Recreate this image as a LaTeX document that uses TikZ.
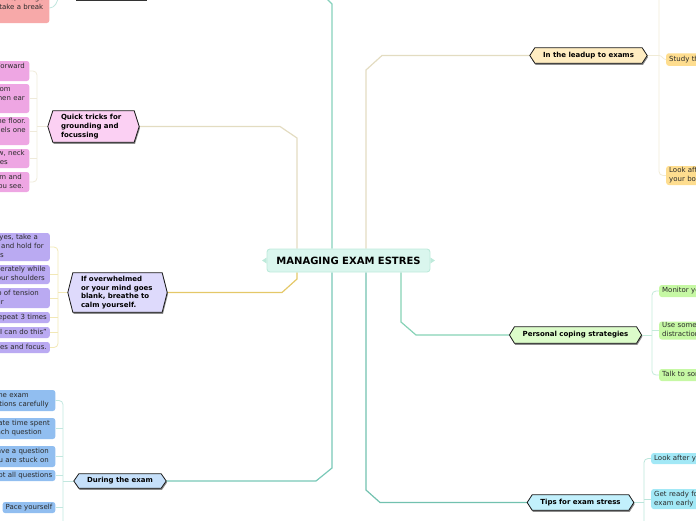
\documentclass[tikz,border=0pt]{standalone}
\usepackage{fontspec}
\setmainfont{DejaVu Sans}
\usetikzlibrary{calc}
\pgfdeclarelayer{bg}
\pgfsetlayers{bg,main}
\definecolor{cenfill}{HTML}{DAF6EE}
\definecolor{cenline}{HTML}{BEEADB}
\definecolor{quickhex}{HTML}{FBD0F3}
\definecolor{quickleaf}{HTML}{EEA6E3}
\definecolor{overhex}{HTML}{DEDAFC}
\definecolor{overleaf}{HTML}{BAAAF2}
\definecolor{durhex}{HTML}{C6E0FA}
\definecolor{durleaf}{HTML}{91BEF0}
\definecolor{leadhex}{HTML}{FFEDC2}
\definecolor{leadleaf}{HTML}{FEDD8F}
\definecolor{perhex}{HTML}{DCFCCA}
\definecolor{perleaf}{HTML}{C6F8A4}
\definecolor{tipshex}{HTML}{C2F0FC}
\definecolor{tipsleaf}{HTML}{A2E8F6}
\definecolor{salmon}{HTML}{F7A9A9}
\definecolor{cTop}{HTML}{86D1BC}
\definecolor{cTan}{HTML}{E3DCC1}
\definecolor{cYel}{HTML}{E4C868}
\definecolor{cTeal}{HTML}{78C8B7}
\definecolor{cGreen}{HTML}{86D2B6}
\definecolor{cTealB}{HTML}{72C1AF}
\definecolor{bTan}{HTML}{EFEADA}
\definecolor{bYel}{HTML}{F2E8B6}
\definecolor{bTeal}{HTML}{C2E7DF}
\definecolor{bLead}{HTML}{F0EBD6}
\definecolor{bGreen}{HTML}{C3EAD9}
\definecolor{bTips}{HTML}{BBE5DB}
\definecolor{leaftext}{HTML}{2A2A2A}
\newcommand{\lf}[2]{\mbox{#2\hspace{#1pt}}\strut}
\begin{document}
\begin{tikzpicture}[x=1pt,y=-1pt,
  leafbox/.style={rounded corners=2.5pt, inner xsep=3pt, inner ysep=0pt, font=\fontsize{7}{9}\selectfont, text=leaftext},
  leafL/.style={leafbox, anchor=east, align=right, text width=100pt},
  leafR/.style={leafbox, anchor=west, align=left, text width=100pt},
  hexnode/.style={inner xsep=8pt, inner ysep=0pt, font=\bfseries\fontsize{7}{8.7}\selectfont, text=black},
  hexdraw/.style={draw=black!90, line width=0.8pt, fill=#1},
  hexshadow/.style={fill=black!45},
  conn/.style={line width=1.2pt},
  brk/.style={line width=0.8pt, rounded corners=4pt},
  central/.style={fill=cenfill, draw=cenline, line width=0.9pt, rounded corners=3pt, font=\bfseries\fontsize{10}{12}\selectfont, minimum width=163pt, minimum height=23pt, inner sep=0pt}
]
\useasboundingbox (0,0) rectangle (696,520);

% central
\node[central] (cen) at (348.5,260.5) {MANAGING EXAM ESTRES};

% hexagon branch nodes (text only; shapes drawn on background)
\node[hexnode, minimum width=81pt, minimum height=31pt, text width=65pt, align=left] (hq) at (93.5,126.5) {Quick tricks for\\grounding and\\focussing};
\node[hexnode, minimum width=89pt, minimum height=39pt, text width=73pt, align=left] (ho) at (117.5,292.5) {If overwhelmed\\or your mind goes\\blank, breathe to\\calm yourself.};
\node[hexnode, minimum width=82pt, minimum height=14pt] (hd) at (120,481) {During the exam};
\node[hexnode, minimum width=107pt, minimum height=15pt] (hl) at (588.5,55.5) {In the leadup to exams};
\node[hexnode, minimum width=121pt, minimum height=16pt] (hp) at (575.5,335) {Personal coping strategies};
\node[hexnode, minimum width=95pt, minimum height=15pt] (ht) at (580.5,502.5) {Tips for exam stress};

% top-left leaf
\node[leafL, fill=salmon, minimum height=30pt] (s0) at (49.5,8) {\lf{0}{advice, or a get}\\\lf{3}{take a break}\\\strut};

% quick tricks leaves
\node[leafL, fill=quickleaf, minimum height=20pt] (p1) at (29.5,71) {\lf{1.5}{Forward}\\\strut};
\node[leafL, fill=quickleaf, minimum height=29pt] (p2) at (29.5,98.5) {\lf{15.5}{from}\\\lf{1.5}{then ear}\\\strut};
\node[leafL, fill=quickleaf, minimum height=28pt] (p3) at (29.5,131) {\lf{0.5}{the floor.}\\\lf{0.5}{feels one}\\\strut};
\node[leafL, fill=quickleaf, minimum height=19pt] (p4) at (29.5,158.5) {\lf{1.5}{jaw, neck}\\\lf{18.5}{muscles}};
\node[leafL, fill=quickleaf, minimum height=20pt] (p5) at (29.5,182) {\lf{4.5}{room and}\\\lf{2.5}{you see.}};

% overwhelmed leaves
\node[leafL, fill=overleaf, minimum height=28pt] (o1) at (50,247) {\lf{9}{eyes, take a}\\\lf{3}{in and hold for}\\\lf{43}{seconds}};
\node[leafL, fill=overleaf, minimum height=19pt] (o2) at (50,274.5) {\lf{1}{berately while}\\\lf{2}{your shoulders}};
\node[leafL, fill=overleaf, minimum height=20pt] (o3) at (50,298) {\lf{8}{go of tension}\\\lf{43}{your}};
\node[leafL, fill=overleaf, minimum height=11pt] (o4) at (50,317.5) {\lf{0}{Repeat 3 times}};
\node[leafL, fill=overleaf, minimum height=11pt] (o5) at (50,332.5) {\lf{0}{"I can do this"}};
\node[leafL, fill=overleaf, minimum height=11pt] (o6) at (50,347.5) {\lf{0}{eyes and focus.}};

% during leaves
\node[leafL, fill=durleaf, minimum height=21pt] (d1) at (55.5,400.5) {\lf{23.5}{the exam}\\\lf{3.5}{instructions carefully}};
\node[leafL, fill=durleaf, minimum height=21pt] (d2) at (55.5,428.5) {\lf{2.5}{Allocate time spent}\\\lf{10.5}{on each question}};
\node[leafL, fill=durleaf, minimum height=21pt] (d3) at (55.5,456.5) {\lf{3.5}{Leave a question}\\\lf{3.5}{if you are stuck on}};
\node[leafL, fill=durleaf, minimum height=11pt] (d4) at (55.5,475.5) {\lf{0}{Attempt all questions}};
\node[leafbox, anchor=east, fill=durleaf, minimum height=11pt] (d5) at (55.5,507.5) {Pace yourself\strut};

% right leaves
\node[leafR, fill=leadleaf, minimum height=12.5pt] (r1) at (666,59.5) {Study the\strut};
\node[leafR, fill=leadleaf, minimum height=19pt] (r2) at (666,175.5) {Look after\strut\\your body\strut};
\node[leafR, fill=perleaf, minimum height=12pt] (m1) at (659,291) {Monitor your\strut};
\node[leafR, fill=perleaf, minimum height=18pt] (m2) at (659,330.5) {Use some\strut\\distraction\strut};
\node[leafR, fill=perleaf, minimum height=12pt] (m3) at (659,375) {Talk to some\strut};
\node[leafR, fill=tipsleaf, minimum height=11pt] (t1) at (651,458.5) {Look after your\strut};
\node[leafR, fill=tipsleaf, minimum height=20pt] (t2) at (651,499) {Get ready for\strut\\exam early\strut};

% coordinates for connector bends
\coordinate (a1) at (332,4);   \coordinate (a2) at (326,-2);
\coordinate (q1) at (297,138); \coordinate (q2) at (280,126.5);
\coordinate (l1) at (366,70);  \coordinate (l2) at (382,55.5);
\coordinate (v1) at (297,279); \coordinate (v2) at (282,292.5);
\coordinate (e1) at (332,468); \coordinate (e2) at (316,481);
\coordinate (g1) at (401,322); \coordinate (g2) at (416,335);
\coordinate (k1) at (366,490); \coordinate (k2) at (380,502.5);
\coordinate (qb) at (37,0);
\coordinate (ob) at (58,0);
\coordinate (db) at (63,0);
\coordinate (lb) at (659,0);
\coordinate (pb) at (652,0);
\coordinate (tb) at (644,0);
\coordinate (topend) at (58,-3);

\begin{pgfonlayer}{bg}
  % main connectors
  \draw[conn,cTop] (a1 |- cen.north) -- (a1) -- (a2);
  \draw[conn,cTan] (q1 |- cen.north) -- (q1) -- (q2) -- ([xshift=5pt]hq.east);
  \draw[conn,cTan] (l1 |- cen.north) -- (l1) -- (l2) -- ([xshift=-5pt]hl.west);
  \draw[conn,cYel] (v1 |- cen.south) -- (v1) -- (v2) -- ([xshift=5pt]ho.east);
  \draw[conn,cTeal] (e1 |- cen.south) -- (e1) -- (e2) -- ([xshift=5pt]hd.east);
  \draw[conn,cGreen] (g1 |- cen.south) -- (g1) -- (g2) -- ([xshift=-5pt]hp.west);
  \draw[conn,cTealB] (k1 |- cen.south) -- (k1) -- (k2) -- ([xshift=-5pt]ht.west);

  % central notches
  \fill[cenline] ([xshift=-4.5pt]cen.west) -- ([yshift=3pt]cen.west) -- ([yshift=-3pt]cen.west) -- cycle;
  \fill[cenline] ([xshift=4.5pt]cen.east) -- ([yshift=3pt]cen.east) -- ([yshift=-3pt]cen.east) -- cycle;

  % leaf brackets: quick tricks
  \draw[brk,bTan] ([xshift=-5pt]hq.west) -- (qb |- hq.west);
  \draw[brk,bTan] (p1.east) -| (qb |- p5.east) -- (p5.east);
  \foreach \n in {p2,p3,p4} \draw[brk,bTan] (\n.east) -- (qb |- \n.east);
  % overwhelmed
  \draw[brk,bYel] ([xshift=-5pt]ho.west) -- (ob |- ho.west);
  \draw[brk,bYel] (o1.east) -| (ob |- o6.east) -- (o6.east);
  \foreach \n in {o2,o3,o4,o5} \draw[brk,bYel] (\n.east) -- (ob |- \n.east);
  % during
  \draw[brk,bTeal] ([xshift=-5pt]hd.west) -- (db |- hd.west);
  \draw[brk,bTeal] (d1.east) -| ([yshift=-530pt]db);
  \foreach \n in {d2,d3,d4,d5} \draw[brk,bTeal] (\n.east) -- (db |- \n.east);
  % leadup
  \draw[brk,bLead] ([xshift=5pt]hl.east) -- (lb |- hl.east);
  \draw[brk,bLead] ([yshift=5pt]lb) |- (r2.west);
  \draw[brk,bLead] (lb |- hl.east) to[out=0,in=180] (r1.west);
  % personal
  \draw[brk,bGreen] ([xshift=5pt]hp.east) -- (pb |- hp.east);
  \draw[brk,bGreen] (m1.west) -| (pb |- m3.west) -- (m3.west);
  \draw[brk,bGreen] (pb |- m2.west) -- (m2.west);
  % tips
  \draw[brk,bTips] ([xshift=5pt]ht.east) -- (tb |- ht.east);
  \draw[brk,bTips] (t1.west) -| ([yshift=-530pt]tb);
  \draw[brk,bTips] (tb |- t2.west) -- (t2.west);
  % top-left fragment
  \draw[line width=0.8pt,bTeal] (s0.east) .. controls +(5,0) and +(0,5) .. (topend);
  \draw[line width=1.5pt,black!80] (76,0.5) -- (147,0.5);

  % hexagon shapes
  \foreach \n/\c in {hq/quickhex, ho/overhex, hd/durhex, hl/leadhex, hp/perhex, ht/tipshex}{
    \fill[hexshadow] ([shift={(0.8pt,-1.6pt)}]\n.north west) -- ([shift={(0.8pt,-1.6pt)}]\n.north east) -- ([shift={(5.8pt,-1.6pt)}]\n.east) -- ([shift={(0.8pt,-1.6pt)}]\n.south east) -- ([shift={(0.8pt,-1.6pt)}]\n.south west) -- ([shift={(-4.2pt,-1.6pt)}]\n.west) -- cycle;
    \draw[hexdraw=\c] (\n.north west) -- (\n.north east) -- ([xshift=5pt]\n.east) -- (\n.south east) -- (\n.south west) -- ([xshift=-5pt]\n.west) -- cycle;
  }
\end{pgfonlayer}
\end{tikzpicture}
\end{document}
